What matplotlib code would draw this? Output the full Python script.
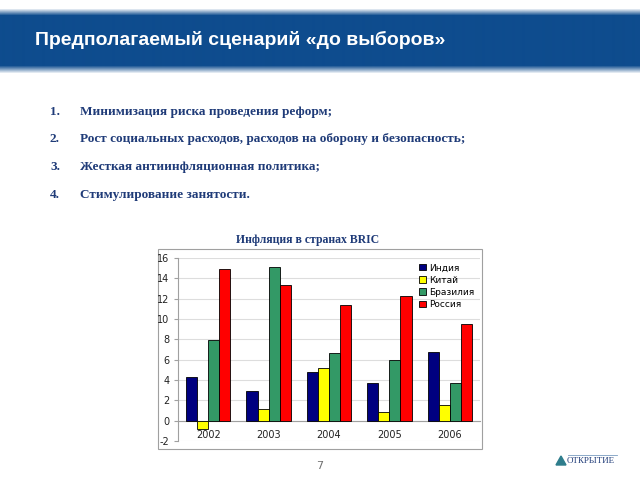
#!/usr/bin/env python3
import numpy as np
import matplotlib
matplotlib.use("Agg")
import matplotlib.pyplot as plt
from matplotlib.patches import Rectangle, Polygon

# --- data ---
title = "Предполагаемый сценарий «до выборов»"
items = [
    "Минимизация риска проведения реформ;",
    "Рост социальных расходов, расходов на оборону и безопасность;",
    "Жесткая антиинфляционная политика;",
    "Стимулирование занятости.",
]
chart_title = "Инфляция в странах BRIC"
years = ["2002", "2003", "2004", "2005", "2006"]
india = [4.3, 2.9, 4.8, 3.7, 6.8]
china = [-0.8, 1.1, 5.2, 0.9, 1.5]
brazil = [7.9, 15.1, 6.7, 6.0, 3.7]
russia = [14.9, 13.3, 11.4, 12.3, 9.5]
series_names = ["Индия", "Китай", "Бразилия", "Россия"]
colors = ["#000080", "#FFFF00", "#339966", "#FF0000"]

plt.rcParams["axes.unicode_minus"] = False

W, H = 640, 480
fig = plt.figure(figsize=(6.4, 4.8), dpi=100)

# background layer in pixel coordinates
bg = fig.add_axes([0, 0, 1, 1])
bg.axis("off")

# banner with soft top/bottom edges
band = np.array([14, 76, 142]) / 255.0
ys = np.arange(8, 74)
alpha = np.ones(len(ys))
alpha[ys < 15] = np.clip((ys[ys < 15] - 8) / 7.0, 0, 1)
alpha[ys > 65] = np.clip((73 - ys[ys > 65]) / 8.0, 0, 1)
img = np.ones((len(ys), 1, 4))
img[:, 0, :3] = band
img[:, 0, 3] = alpha
bg.imshow(img, extent=(0, W, 74, 8), aspect="auto", interpolation="bilinear")
bg.set_xlim(0, W)
bg.set_ylim(H, 0)

bg.text(35, 40, title, color="white", fontsize=14, fontweight="bold",
        family="Liberation Sans", va="center", ha="left")

text_color = "#1F3B78"
for i, (y, s) in enumerate(zip([112, 139, 167, 195], items)):
    bg.text(50, y, f"{i + 1}.", color=text_color, fontsize=9.5,
            fontweight="bold", family="Liberation Serif", va="center")
    bg.text(80, y, s, color=text_color, fontsize=9.5, fontweight="bold",
            family="Liberation Serif", va="center")

bg.text(308, 240, chart_title, color=text_color, fontsize=8.5,
        fontweight="bold", family="Liberation Serif", ha="center", va="center")

# chart frame
bg.add_patch(Rectangle((158, 249), 324, 200, fill=False, edgecolor="#A0A0A0", lw=0.8))

# page number and logo
bg.text(320, 466, "7", color="#707070", fontsize=8, ha="center", va="center")
bg.add_patch(Polygon([[556, 465], [566, 465], [561, 456]], closed=True,
                     color="#2E7D8C"))
bg.text(567, 461, "ОТКРЫТИЕ", color="#1F3B78", fontsize=6.5,
        family="Liberation Serif", va="center", ha="left")
bg.plot([568, 617], [455, 455], color="#7A9CC0", lw=0.6)

# bar chart
ax = fig.add_axes([178 / W, 1 - 441 / H, 302 / W, 183 / H])
x = np.arange(len(years))
bw = 0.183
for k, (vals, name, col) in enumerate(zip([india, china, brazil, russia], series_names, colors)):
    ax.bar(x + (k - 1.5) * bw, vals, width=bw, color=col, edgecolor="black",
           linewidth=0.6, label=name, zorder=3)

ax.set_xlim(-0.5, len(years) - 0.5)
ax.set_ylim(-2, 16)
ax.set_yticks(range(-2, 17, 2))
ax.yaxis.grid(True, color="#DDDDDD", linewidth=0.8, zorder=0)
ax.set_axisbelow(True)
for side in ["top", "right"]:
    ax.spines[side].set_visible(False)
ax.spines["bottom"].set_position(("data", 0))
ax.spines["bottom"].set_color("#A0A0A0")
ax.spines["left"].set_color("#A0A0A0")
ax.set_xticks(x)
ax.set_xticklabels(years)
ax.tick_params(axis="x", length=0, pad=7, labelsize=7, labelcolor="#222222")
ax.tick_params(axis="y", length=3, color="#A0A0A0", labelsize=7, pad=3,
               labelcolor="#222222")
ax.set_facecolor("none")

ax.legend(loc="upper right", frameon=False, fontsize=6.5, handlelength=0.7,
          handleheight=0.7, handletextpad=0.4, labelspacing=0.35,
          borderaxespad=0.2)

fig.savefig("out.png", dpi=100)
